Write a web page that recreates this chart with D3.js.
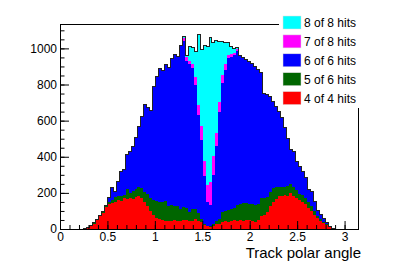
<!DOCTYPE html>
<html>
<head>
<meta charset="utf-8">
<script src="https://cdn.jsdelivr.net/npm/d3@7"></script>
<style>
  body { margin: 0; background: #fff; }
  text { font-family: "Liberation Sans", Arial, Helvetica, sans-serif; fill: #000; }
</style>
</head>
<body>
<div id="graph"></div>
<script>
// histogram binning: 100 bins between 0 and pi
const N_BINS = 100;
const X_MIN = 0;
const X_MAX = Math.PI;

// bin contents, one array per hit category
const hits4of4 = [
  0, 0, 0, 0, 0, 0, 0, 0, 2, 7,
  17, 30, 48, 70, 88, 120, 140, 145, 150, 162,
  155, 170, 165, 172, 165, 175, 182, 172, 150, 125,
  100, 80, 62, 58, 50, 43, 45, 47, 48, 47,
  45, 48, 50, 43, 45, 56, 43, 40, 20, 14,
  12, 18, 25, 28, 38, 42, 40, 45, 48, 46,
  50, 47, 52, 48, 42, 40, 48, 70, 80, 95,
  125, 150, 165, 180, 185, 188, 185, 200, 180, 172,
  160, 150, 140, 118, 100, 80, 62, 45, 32, 20,
  10, 2, 0, 0, 0, 0, 0, 0, 0, 0
];
const hits5of6 = [
  0, 0, 0, 0, 0, 0, 0, 0, 0, 0,
  1, 2, 2, 2, 4, 6, 10, 17, 25, 23,
  28, 20, 55, 28, 45, 47, 53, 53, 55, 70,
  72, 80, 95, 92, 100, 112, 83, 85, 82, 81,
  65, 72, 68, 52, 67, 54, 47, 17, 8, 4,
  4, 10, 17, 27, 57, 58, 65, 67, 70, 89,
  88, 98, 90, 92, 95, 95, 92, 100, 92, 80,
  80, 75, 67, 50, 50, 44, 53, 48, 55, 43,
  35, 40, 30, 32, 28, 18, 10, 10, 8, 5,
  2, 0, 0, 0, 0, 0, 0, 0, 0, 0
];
const hits6of6 = [
  0, 0, 0, 0, 0, 0, 0, 0, 0, 1,
  1, 2, 3, 3, 7, 4, 25, 66, 35, 80,
  137, 140, 192, 228, 247, 282, 330, 398, 485, 480,
  483, 630, 688, 740, 730, 757, 767, 813, 835, 827,
  905, 920, 812, 817, 778, 690, 542, 438, 264, 132,
  119, 272, 415, 595, 714, 781, 842, 843, 844, 850,
  820, 805, 798, 790, 781, 765, 741, 695, 580, 568,
  529, 481, 448, 420, 380, 328, 262, 192, 193, 160,
  150, 130, 113, 70, 80, 57, 28, 25, 20, 10,
  3, 1, 0, 0, 0, 0, 0, 0, 0, 0
];
const hits7of8 = [
  0, 0, 0, 0, 0, 0, 0, 0, 0, 0,
  0, 0, 0, 0, 0, 0, 0, 0, 0, 0,
  0, 0, 0, 0, 0, 0, 0, 0, 0, 0,
  0, 0, 0, 0, 0, 0, 0, 0, 0, 0,
  0, 15, 20, 16, 22, 40, 56, 75, 83, 95,
  127, 102, 76, 54, 44, 33, 17, 15, 14, 13,
  0, 0, 0, 0, 0, 0, 0, 0, 0, 0,
  0, 0, 0, 0, 0, 0, 0, 0, 0, 0,
  0, 0, 0, 0, 0, 0, 0, 0, 0, 0,
  0, 0, 0, 0, 0, 0, 0, 0, 0, 0
];
const hits8of8 = [
  0, 0, 0, 0, 0, 0, 0, 0, 0, 0,
  0, 0, 0, 0, 0, 0, 0, 0, 0, 0,
  0, 0, 0, 0, 0, 0, 0, 0, 0, 0,
  0, 0, 0, 0, 0, 0, 0, 0, 0, 0,
  0, 10, 10, 82, 93, 145, 387, 425, 640, 765,
  798, 628, 512, 336, 187, 116, 71, 40, 24, 7,
  0, 0, 0, 0, 0, 0, 0, 0, 0, 0,
  0, 0, 0, 0, 0, 0, 0, 0, 0, 0,
  0, 0, 0, 0, 0, 0, 0, 0, 0, 0,
  0, 0, 0, 0, 0, 0, 0, 0, 0, 0
];

// stack order, bottom to top
const KEYS = ["h4", "h5", "h6", "h7", "h8"];
const LABELS = { h4: "4 of 4 hits", h5: "5 of 6 hits", h6: "6 of 6 hits", h7: "7 of 8 hits", h8: "8 of 8 hits" };
const COLORS = { h4: "#ff0000", h5: "#006600", h6: "#0000ff", h7: "#ff00ff", h8: "#00ffff" };
const LEGEND_ORDER = ["h8", "h7", "h6", "h5", "h4"];

const X_TICKS = [0, 0.5, 1, 1.5, 2, 2.5, 3];
const Y_TICKS = [0, 200, 400, 600, 800, 1000];
const Y_MAX = 1135;
const X_TITLE = "Track polar angle";

// ------------------------ D3 ------------------------
const W = 399, H = 270;
const FRAME = { l: 60, r: 358, t: 24, b: 229 };

const svg = d3.select("#graph").append("svg")
  .attr("width", W)
  .attr("height", H);

const x = d3.scaleLinear().domain([X_MIN, X_MAX]).range([FRAME.l, FRAME.r]);
const y = d3.scaleLinear().domain([0, Y_MAX]).range([FRAME.b, FRAME.t]);

const binW = (X_MAX - X_MIN) / N_BINS;
const rows = d3.range(N_BINS).map((i) => ({
  x0: X_MIN + i * binW,
  h4: hits4of4[i],
  h5: hits5of6[i],
  h6: hits6of6[i],
  h7: hits7of8[i],
  h8: hits8of8[i],
}));
// closing point so the last step reaches the right edge
rows.push({ ...rows[N_BINS - 1], x0: X_MAX });

const layers = d3.stack().keys(KEYS)(rows);

const area = d3.area()
  .curve(d3.curveStepAfter)
  .x((d) => x(d.data.x0))
  .y0((d) => y(d[0]))
  .y1((d) => y(d[1]));

svg.append("g")
  .selectAll("path")
  .data(layers)
  .join("path")
  .attr("d", area)
  .attr("fill", (d) => COLORS[d.key])
  .attr("shape-rendering", "crispEdges");

// outline of the summed histogram
const outline = d3.line()
  .curve(d3.curveStepAfter)
  .x((d) => x(d.data.x0))
  .y((d) => y(d[1]));

svg.append("path")
  .datum(layers[layers.length - 1])
  .attr("d", outline)
  .attr("fill", "none")
  .attr("stroke", "#222")
  .attr("stroke-width", 1)
  .attr("shape-rendering", "crispEdges");

// frame
svg.append("rect")
  .attr("x", FRAME.l + 0.5)
  .attr("y", FRAME.t + 0.5)
  .attr("width", FRAME.r - FRAME.l)
  .attr("height", FRAME.b - FRAME.t)
  .attr("fill", "none")
  .attr("stroke", "#000");

// x axis, ticks pointing up into the frame
const xMinor = d3.range(0, 31).map((d) => d / 10).filter((d) => d <= X_MAX);
svg.append("g")
  .attr("transform", `translate(0, ${FRAME.b})`)
  .call(d3.axisBottom(x).tickValues(xMinor).tickSizeInner(-4).tickSizeOuter(0).tickFormat(""))
  .call((g) => g.select(".domain").remove());

svg.append("g")
  .attr("transform", `translate(0, ${FRAME.b})`)
  .call(d3.axisBottom(x).tickValues(X_TICKS).tickSizeInner(-8).tickSizeOuter(0).tickPadding(3.5).tickFormat(d3.format("~g")))
  .call((g) => g.select(".domain").attr("stroke", "#000"))
  .call((g) => g.selectAll("text").attr("font-size", 12).attr("font-family", null));

// y axis, ticks pointing right into the frame
const yMinor = d3.range(0, 23).map((d) => d * 50).filter((d) => d <= Y_MAX);
svg.append("g")
  .attr("transform", `translate(${FRAME.l}, 0)`)
  .call(d3.axisLeft(y).tickValues(yMinor).tickSizeInner(-4.5).tickSizeOuter(0).tickFormat(""))
  .call((g) => g.select(".domain").remove());

svg.append("g")
  .attr("transform", `translate(${FRAME.l}, 0)`)
  .call(d3.axisLeft(y).tickValues(Y_TICKS).tickSizeInner(-9).tickSizeOuter(0).tickPadding(3).tickFormat(d3.format("d")))
  .call((g) => g.select(".domain").attr("stroke", "#000"))
  .call((g) => g.selectAll("text").attr("font-size", 12).attr("font-family", null));

svg.append("text")
  .attr("x", 361)
  .attr("y", 257.5)
  .attr("text-anchor", "end")
  .attr("font-size", 15)
  .text(X_TITLE);

// legend, white box drawn over the frame corner
const legend = svg.append("g");
legend.append("rect")
  .attr("x", 279)
  .attr("y", 4)
  .attr("width", 120)
  .attr("height", 104)
  .attr("fill", "#fff");

const entry = legend.selectAll("g.entry")
  .data(LEGEND_ORDER)
  .join("g")
  .attr("class", "entry")
  .attr("transform", (d, i) => `translate(283, ${16 + i * 18.9})`);

entry.append("rect")
  .attr("width", 18)
  .attr("height", 13)
  .attr("fill", (d) => COLORS[d])
  .attr("stroke", "#ddd")
  .attr("stroke-width", 0.5);

entry.append("text")
  .attr("x", 21)
  .attr("y", 11)
  .attr("font-size", 12)
  .text((d) => LABELS[d]);
</script>
</body>
</html>
